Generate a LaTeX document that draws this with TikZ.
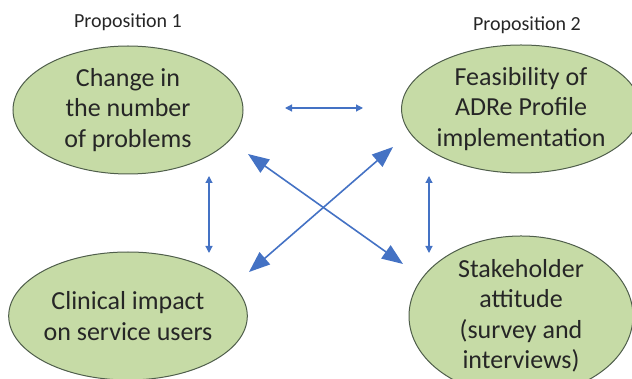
\documentclass[tikz,border=0pt]{standalone}
\usepackage{fontspec}
\setmainfont{Carlito}
\usetikzlibrary{arrows.meta,shapes.geometric}
\definecolor{ellfill}{HTML}{C6DBA6}
\definecolor{elldraw}{HTML}{4F5E4B}
\definecolor{arrblue}{HTML}{4472C4}
\tikzset{
  bubble/.style={ellipse, draw=elldraw, line width=1pt, fill=ellfill, minimum width=230pt, minimum height=128pt, inner sep=0pt, align=center, font=\fontsize{26}{30.5}\selectfont, text=black!85},
  prop/.style={font=\fontsize{20}{22}\selectfont, text=black!85},
  thinarrow/.style={arrblue, line width=1.2pt, {Triangle[length=7pt,width=7pt]}-{Triangle[length=7pt,width=7pt]}},
  bigarrow/.style={arrblue, line width=1.6pt, {Triangle[length=21pt,width=16pt]}-{Triangle[length=21pt,width=16pt]}}
}
\begin{document}
\begin{tikzpicture}[x=1pt,y=-1pt]
\useasboundingbox (0,0) rectangle (632,379);
\node[prop] (p1) at (128,22) {Proposition 1};
\node[prop] (p2) at (527,25) {Proposition 2};
\node[bubble] (e1) at (128,110) {Change in\\the number\\of problems};
\node[bubble, minimum width=224pt] (e2) at (521,109) {Feasibility of\\ADRe Profile\\implementation};
\node[bubble] (e3) at (128,316) {Clinical impact\\on service users};
\node[bubble, minimum width=224pt] (e4) at (521,316) {Stakeholder\\attitude\\(survey and\\interviews)};
\coordinate (h1) at (285,108);
\coordinate (h2) at (363,108);
\coordinate (v1a) at (209,176);
\coordinate (v1b) at (209,253);
\coordinate (v2a) at (429,176);
\coordinate (v2b) at (429,253);
\coordinate (d1a) at (248,154);
\coordinate (d1b) at (403,264);
\coordinate (d2a) at (249,272);
\coordinate (d2b) at (393,147);
\draw[thinarrow] (h1) -- (h2);
\draw[thinarrow] (v1a) -- (v1b);
\draw[thinarrow] (v2a) -- (v2b);
\draw[bigarrow] (d1a) -- (d1b);
\draw[bigarrow] (d2a) -- (d2b);
\end{tikzpicture}
\end{document}
